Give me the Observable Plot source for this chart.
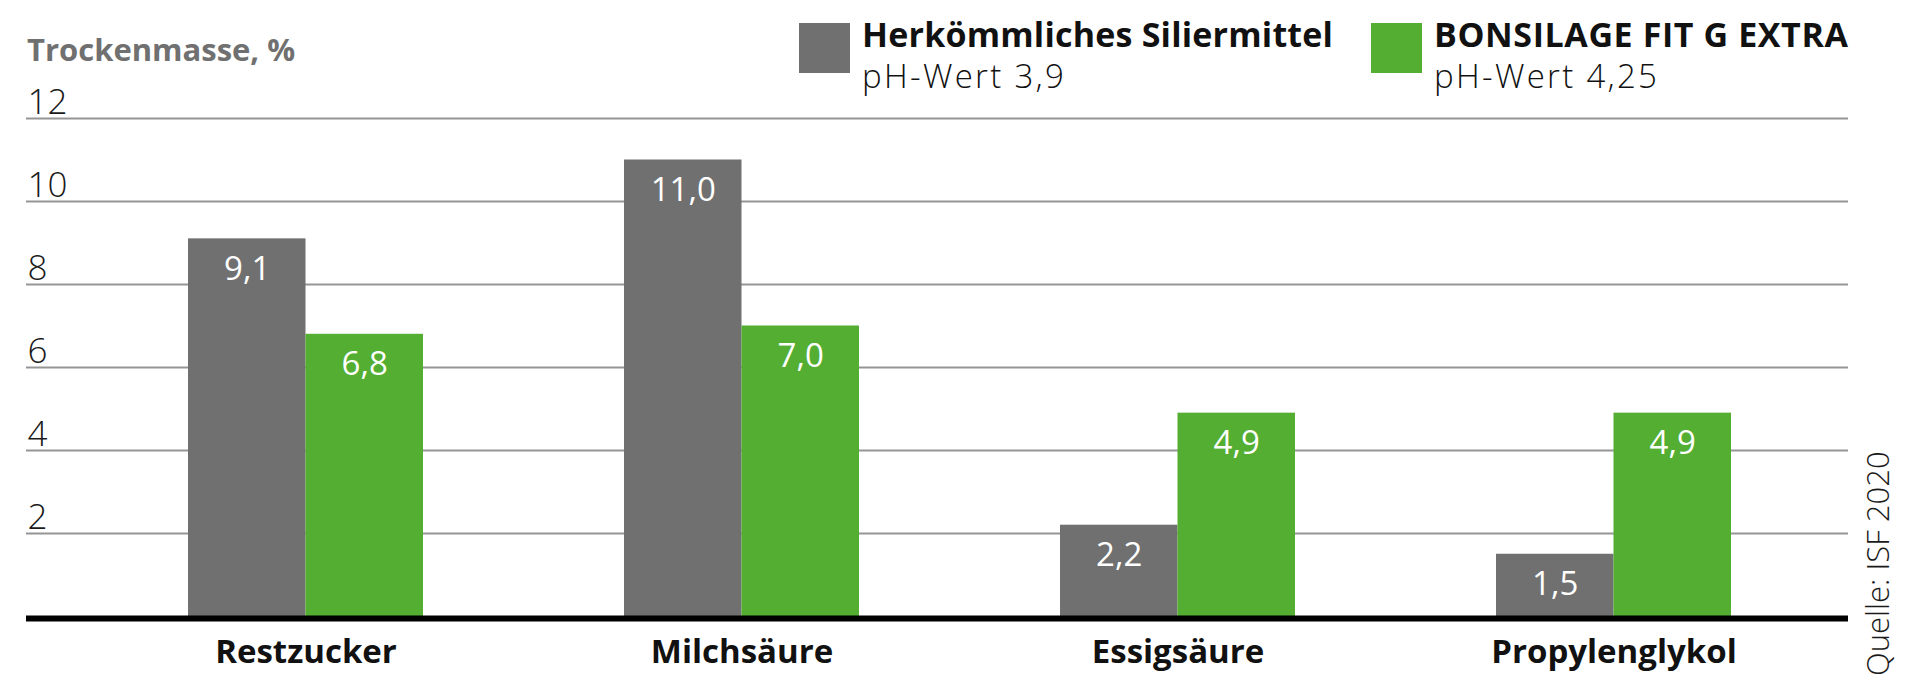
<!DOCTYPE html>
<html>
<head>
<meta charset="utf-8">
<script src="https://cdn.jsdelivr.net/npm/d3@7"></script>
<script src="https://cdn.jsdelivr.net/npm/@observablehq/plot@0.6"></script>
<style>
  html, body { margin: 0; padding: 0; background: #fff; }
  #wrap { position: relative; width: 1920px; height: 695px; font-family: "Open Sans", sans-serif; }
  #wrap > svg { position: absolute; left: 0; top: 0; }
</style>
</head>
<body>
<div id="wrap"></div>
<script>
// ---- data ----
const categories = ["Restzucker", "Milchsäure", "Essigsäure", "Propylenglykol"];
const seriesNames = ["Herkömmliches Siliermittel", "BONSILAGE FIT G EXTRA"];
const seriesSubtitles = ["pH-Wert 3,9", "pH-Wert 4,25"];
const conventionalValues = [9.1, 11.0, 2.2, 1.5];
const bonsilageValues = [6.8, 7.0, 4.9, 4.9];
const yTicks = [2, 4, 6, 8, 10, 12];
const yTitle = "Trockenmasse, %";
const sourceText = "Quelle: ISF 2020";

// ---- styles ----
const colors = ["#707070", "#53ae32"];
const font = "Open Sans";
const fmt = v => d3.format(".1f")(v).replace(".", ",");

const conv = categories.map((c, i) => ({cat: c, value: conventionalValues[i]}));
const bons = categories.map((c, i) => ({cat: c, value: bonsilageValues[i]}));

const xRange = [86.7, 1832.3];
const padIn = 0.4615, padOut = 0.23075;
const step = (xRange[1] - xRange[0]) / (categories.length - padIn + 2 * padOut);
const half = step * (1 - padIn) / 2;

const chart = Plot.plot({
  width: 1920,
  height: 695,
  marginLeft: 26,
  marginRight: 72,
  marginTop: 118,
  marginBottom: 79,
  style: {fontFamily: font, background: "transparent"},
  x: {type: "band", domain: categories, range: xRange, paddingInner: padIn, paddingOuter: padOut, axis: null},
  y: {domain: [0, 12], axis: null},
  marks: [
    Plot.ruleY(yTicks, {stroke: "#959595", strokeWidth: 2}),
    Plot.text(yTicks, {y: d => d, text: d => String(d), frameAnchor: "left", textAnchor: "start",
      lineAnchor: "bottom", dx: 1, dy: -5, fontSize: 35, fontWeight: 300, fill: "#1a1a1a"}),
    Plot.barY(conv, {x: "cat", y: "value", fill: colors[0], insetRight: half}),
    Plot.barY(bons, {x: "cat", y: "value", fill: colors[1], insetLeft: half}),
    Plot.text(conv, {x: "cat", y: "value", text: d => fmt(d.value), dx: -half / 2, dy: 41,
      lineAnchor: "bottom", fill: "#fff", fontSize: 33, fontWeight: 400}),
    Plot.text(bons, {x: "cat", y: "value", text: d => fmt(d.value), dx: half / 2, dy: 41,
      lineAnchor: "bottom", fill: "#fff", fontSize: 33, fontWeight: 400}),
    Plot.ruleY([0], {stroke: "#000", strokeWidth: 6, dy: 2}),
    Plot.text(categories, {x: d => d, text: d => d, frameAnchor: "bottom", lineAnchor: "bottom",
      dy: 46, fontSize: 33, fontWeight: 700, fill: "#111"})
  ]
});

const wrap = document.getElementById("wrap");
wrap.appendChild(chart);

// ---- title, legend and source (overlay) ----
const ov = d3.select(wrap).append("svg")
  .attr("width", 1920).attr("height", 695)
  .style("font-family", font);

ov.append("text").attr("x", 27).attr("y", 61)
  .attr("font-size", 31).attr("font-weight", 700).attr("fill", "#707070")
  .text(yTitle);

const legendX = [799, 1371];
const nameSpacing = [0.2, 0.6];
seriesNames.forEach((name, i) => {
  const g = ov.append("g").attr("transform", `translate(${legendX[i]},23)`);
  g.append("rect").attr("width", 51).attr("height", 50).attr("fill", colors[i]);
  const t = g.append("text").attr("fill", "#111");
  t.append("tspan").attr("x", 63).attr("y", 24).attr("font-size", 34).attr("font-weight", 700)
    .attr("letter-spacing", nameSpacing[i]).text(name);
  t.append("tspan").attr("x", 63).attr("y", 65).attr("font-size", 33).attr("font-weight", 300)
    .attr("letter-spacing", 2.3).text(seriesSubtitles[i]);
});

ov.append("text")
  .attr("transform", "translate(1889,676) rotate(-90)")
  .attr("font-size", 31).attr("font-weight", 300).attr("fill", "#1a1a1a")
  .text(sourceText);
</script>
</body>
</html>
